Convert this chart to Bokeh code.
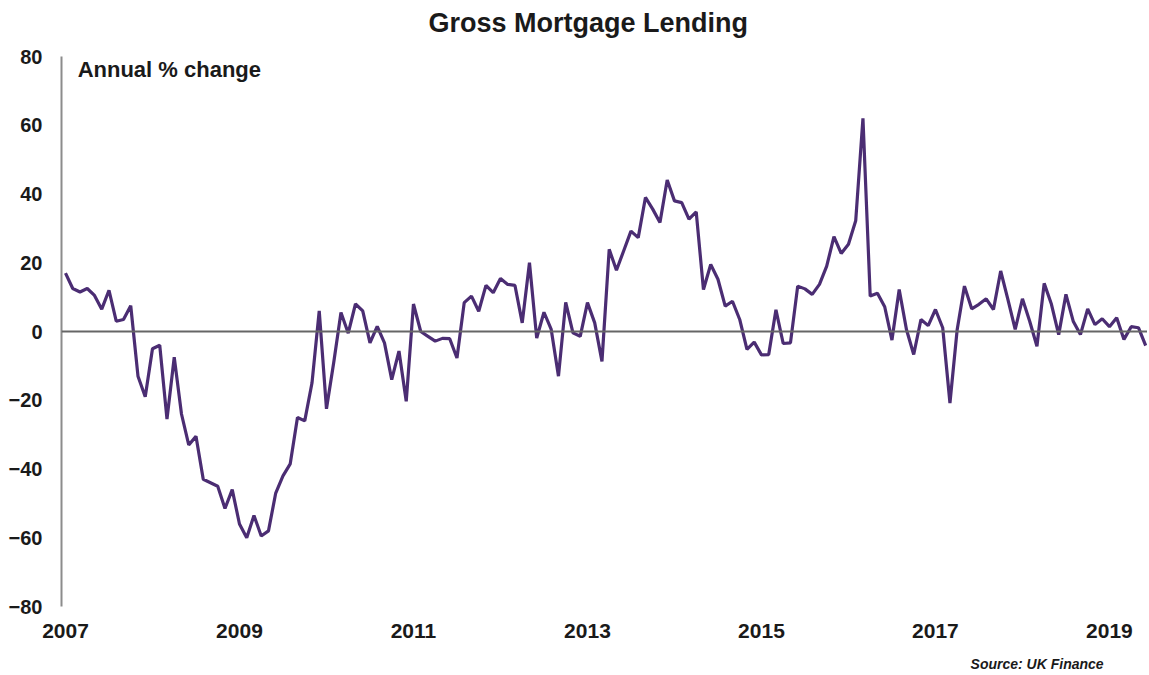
import pandas as pd
from bokeh.plotting import figure
from bokeh.models import Span, Label, FixedTicker, Range1d, Title
from bokeh.embed import file_html
from bokeh.resources import INLINE

title_text = "Gross Mortgage Lending"
unit_label = "Annual % change"
source_text = "Source:  UK Finance"
start_month = "2007-01"

annual_change = [
    17, 12.5, 11.5, 12.5, 10.5, 6.5, 12, 3, 3.5, 7.5, -13, -19,
    -5, -4, -25.5, -7.5, -24, -33, -30.5, -43, -44, -45, -51.5, -46,
    -56, -60, -53.5, -59.5, -58, -47, -42, -38.5, -25, -26, -15, 6,
    -22.5, -9, 5.5, -0.5, 8, 6, -3.3, 1.5, -3.3, -14, -5.7, -20.3,
    8, 0, -1.4, -2.8, -2, -2.1, -7.7, 8.4, 10.3, 5.9, 13.4, 11.3,
    15.4, 13.7, 13.4, 2.5, 20, -1.9, 5.6, 0.6, -13, 8.5, -0.4, -1.4,
    8.4, 2.5, -8.7, 23.9, 17.8, 23.5, 29.2, 27.3, 39, 35.6, 31.7, 44.1,
    38, 37.5, 32.7, 34.8, 12.2, 19.5, 15.2, 7.4, 8.8, 3.5, -5.2, -3.1,
    -6.8, -6.7, 6.3, -3.5, -3.3, 13.2, 12.4, 10.8, 13.7, 19, 27.6, 22.7,
    25.4, 32.2, 62, 10.3, 11.1, 7.2, -2.5, 12.2, 0.6, -6.7, 3.5, 1.7,
    6.4, 1.1, -20.8, 0.6, 13.2, 6.6, 7.9, 9.5, 6.4, 17.6, 9.3, 0.6,
    9.5, 3, -4.3, 14, 7.9, -0.9, 10.8, 3, -0.9, 6.6, 2, 3.7,
    1.4, 4, -2.3, 1.4, 1.1, -4.1,
]

x_tick_years = [2007, 2009, 2011, 2013, 2015, 2017, 2019]
y_ticks = [-80, -60, -40, -20, 0, 20, 40, 60, 80]

months = pd.date_range(start_month, periods=len(annual_change), freq="MS")
x = [d.year + (d.month - 1) / 12 for d in months]

FONT = "Liberation Sans"
TEXT = "#1a1a1a"

p = figure(
    width=1147, height=684, title=None,
    output_backend="svg", toolbar_location=None,
    x_range=Range1d(x[0] - 0.55 / 12, x[-1] + 0.25 / 12),
    y_range=Range1d(-80, 80),
    min_border_left=61, min_border_right=0,
    min_border_top=56, min_border_bottom=0,
)
p.outline_line_color = None
p.xgrid.grid_line_color = None
p.ygrid.grid_line_color = None
p.background_fill_color = "white"
p.border_fill_color = "white"

# spacer panel next to the frame, then the title above it
p.add_layout(Title(text=" ", text_font_size="2px", standoff=15), "above")
p.add_layout(Title(text=title_text, align="left", offset=367, text_font=FONT,
                   text_font_style="bold", text_font_size="27px",
                   text_color=TEXT, standoff=0), "above")
p.add_layout(Title(text=source_text, align="right", offset=40,
                   text_font=FONT, text_font_style="bold italic",
                   text_font_size="14px", text_color=TEXT, standoff=26), "below")

# axes
p.yaxis.ticker = FixedTicker(ticks=y_ticks)
p.yaxis.axis_line_color = "#8c8c8c"
p.yaxis.axis_line_width = 2
p.yaxis.major_tick_line_color = None
p.yaxis.minor_tick_line_color = None
p.yaxis.major_label_standoff = 13
p.yaxis.major_label_text_font = FONT
p.yaxis.major_label_text_font_style = "bold"
p.yaxis.major_label_text_font_size = "20px"
p.yaxis.major_label_text_color = TEXT

p.xaxis.ticker = FixedTicker(ticks=x_tick_years)
p.xaxis.axis_line_color = None
p.xaxis.major_tick_line_color = None
p.xaxis.minor_tick_line_color = None
p.xaxis.major_label_standoff = 11
p.xaxis.major_label_text_font = FONT
p.xaxis.major_label_text_font_style = "bold"
p.xaxis.major_label_text_font_size = "21px"
p.xaxis.major_label_text_color = TEXT
p.xaxis.major_label_overrides = {yr: str(yr) for yr in x_tick_years}

p.add_layout(Span(location=0, dimension="width", line_color="#666666", line_width=2))

p.line(x, annual_change, line_color="#4b2d73", line_width=3.2)

p.add_layout(Label(x=2007.14, y=76.1, text=unit_label, text_align="left",
                   text_baseline="middle", text_font=FONT, text_font_style="bold",
                   text_font_size="22px", text_color=TEXT))

open("out.html", "w").write(file_html(p, INLINE))
